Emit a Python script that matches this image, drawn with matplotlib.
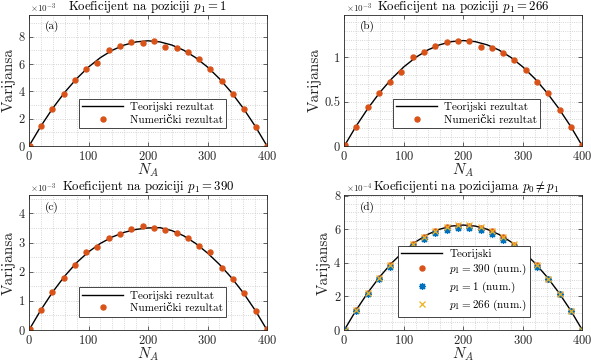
import numpy as np
import matplotlib
matplotlib.use("Agg")
import matplotlib.pyplot as plt
from matplotlib.ticker import MultipleLocator

plt.rcParams["font.family"] = ["cmr10", "DejaVu Serif"]
plt.rcParams["mathtext.fontset"] = "cm"
plt.rcParams["axes.formatter.use_mathtext"] = True
plt.rcParams["axes.unicode_minus"] = False

# N_A positions of the numerical results
NA_NUM = [1, 20, 39, 58, 77, 96, 115, 134, 153, 172, 191, 210,
          229, 248, 267, 286, 305, 324, 343, 362, 381, 400]
# N_A positions of the theoretical curves
NA_TH = [0, 20, 40, 60, 80, 100, 120, 140, 160, 180, 200,
         220, 240, 260, 280, 300, 320, 340, 360, 380, 400]

# (a) p1 = 1, x1e-3
TH_A = [0, 1.46, 2.77, 3.93, 4.93, 5.78, 6.47, 7.01, 7.39, 7.62, 7.70,
        7.62, 7.39, 7.01, 6.47, 5.78, 4.93, 3.93, 2.77, 1.46, 0]
NUM_A = [0.02, 1.48, 2.71, 3.79, 4.82, 5.62, 6.06, 7.01, 7.33, 7.61, 7.51, 7.67,
         7.27, 7.15, 6.90, 6.35, 5.61, 4.76, 3.84, 2.71, 1.37, 0.02]

# (b) p1 = 266, x1e-3
TH_B = [0, 0.226, 0.428, 0.607, 0.762, 0.893, 1.000, 1.083, 1.142, 1.178, 1.190,
        1.178, 1.142, 1.083, 1.000, 0.893, 0.762, 0.607, 0.428, 0.226, 0]
NUM_B = [0.01, 0.22, 0.44, 0.60, 0.72, 0.84, 1.00, 1.066, 1.13, 1.17, 1.182, 1.188,
         1.123, 1.104, 1.048, 0.972, 0.860, 0.728, 0.597, 0.410, 0.220, 0.01]

# (c) p1 = 390, x1e-3
TH_C = [0, 0.69, 1.31, 1.85, 2.31, 2.68, 2.97, 3.19, 3.35, 3.45, 3.50,
        3.51, 3.41, 3.23, 2.97, 2.64, 2.25, 1.80, 1.28, 0.68, 0]
NUM_C = [0.03, 0.69, 1.29, 1.79, 2.23, 2.68, 2.85, 3.14, 3.29, 3.45, 3.58, 3.51,
         3.43, 3.31, 3.17, 2.88, 2.68, 2.14, 1.74, 1.26, 0.64, 0.03]

# (d) p0 != p1, x1e-4
TH_D = [0, 1.19, 2.25, 3.19, 4.00, 4.69, 5.25, 5.69, 6.00, 6.19, 6.25,
        6.19, 6.00, 5.69, 5.25, 4.69, 4.00, 3.19, 2.25, 1.19, 0]
NUM_D390 = [0.02, 1.19, 2.20, 3.10, 3.89, 4.57, 5.13, 5.56, 5.90, 6.12, 6.22, 6.22,
            6.10, 5.88, 5.53, 5.08, 4.52, 3.85, 3.05, 2.15, 1.13, 0.02]
NUM_D1 = [0.02, 1.16, 2.17, 3.03, 3.76, 4.45, 4.98, 5.42, 5.76, 5.97, 6.08, 6.08,
          5.97, 5.72, 5.38, 4.95, 4.42, 3.78, 3.03, 2.14, 1.12, 0.02]
NUM_D266 = [0.02, 1.18, 2.19, 3.09, 3.88, 4.55, 5.12, 5.56, 5.91, 6.12, 6.24, 6.23,
            6.12, 5.89, 5.55, 5.10, 4.53, 3.85, 3.06, 2.15, 1.13, 0.02]

ORANGE = "#D95319"
BLUE = "#0072BD"
YELLOW = "#EDB120"
DARK = "#262626"

fig = plt.figure(figsize=(5.91, 3.64), dpi=100)
W = 0.4027
ax_a = fig.add_axes([0.0491, 0.5989, W, 0.3607])
ax_b = fig.add_axes([0.5826, 0.5989, W, 0.3607])
ax_c = fig.add_axes([0.0491, 0.0934, W, 0.3709])
ax_d = fig.add_axes([0.5826, 0.0934, W, 0.3709])


def style(ax, ytop, ymajor, yminor, label, exp, title, tx=0.5):
    ax.set_xlim(0, 400)
    ax.set_ylim(0, ytop)
    ax.xaxis.set_major_locator(MultipleLocator(100))
    ax.xaxis.set_minor_locator(MultipleLocator(20))
    ax.yaxis.set_major_locator(MultipleLocator(ymajor))
    ax.yaxis.set_minor_locator(MultipleLocator(yminor))
    ax.yaxis.set_major_formatter(plt.FuncFormatter(lambda v, p: f"{v:g}"))
    ax.grid(which="both", color="#c8c8c8", linestyle=":", linewidth=0.6)
    ax.set_axisbelow(True)
    ax.tick_params(which="both", direction="in", top=True, right=True,
                   labelsize=9, width=0.5, color=DARK, labelcolor=DARK, pad=3)
    ax.tick_params(which="major", length=3)
    ax.tick_params(which="minor", length=0)
    for s in ax.spines.values():
        s.set_linewidth(0.6)
        s.set_color(DARK)
    ax.set_xlabel("$N_A$", fontsize=11, labelpad=-1, color=DARK)
    ax.set_ylabel("Varijansa", fontsize=11, labelpad=2, color=DARK)
    ax.set_title(title, fontsize=9.2, pad=2.5, color="black", x=tx)
    ax.text(0.005, 1.0, r"$\times10^{%s}$" % exp, transform=ax.transAxes,
            fontsize=6.5, ha="left", va="bottom", color=DARK)
    ax.text(0.065, 0.91, label, transform=ax.transAxes, fontsize=8,
            ha="left", va="center", color="black")


for ax, th, num, ytop, maj, mino, lab, ti in [
        (ax_a, TH_A, NUM_A, 9.61, 2, 1, "(a)", r"Koeficijent na poziciji $p_1 = 1$"),
        (ax_b, TH_B, NUM_B, 1.482, 0.5, 0.1, "(b)", r"Koeficijent na poziciji $p_1 = 266$"),
        (ax_c, TH_C, NUM_C, 4.63, 1, 0.5, "(c)", r"Koeficijent na poziciji $p_1 = 390$")]:
    ax.plot(NA_TH, th, color="black", linewidth=1.0, label="Teorijski rezultat")
    ax.plot(NA_NUM, num, "o", color=ORANGE, markersize=3.6, linestyle="none",
            label="Numerički rezultat")
    style(ax, ytop, maj, mino, lab, "-3", ti)

ax_d.plot(NA_TH, TH_D, color="black", linewidth=1.0, label="Teorijski")
ax_d.plot(NA_NUM, NUM_D390, "o", color=ORANGE, markersize=3.6, linestyle="none",
          label=r"$p_1 = 390$ (num.)")
ax_d.plot(NA_NUM, NUM_D1, marker=(8, 2, 0), color=BLUE, markersize=5,
          markeredgewidth=0.9, linestyle="none", label=r"$p_1 = 1$ (num.)")
ax_d.plot(NA_NUM, NUM_D266, "x", color=YELLOW, markersize=4,
          markeredgewidth=0.9, linestyle="none", label=r"$p_1 = 266$ (num.)")
style(ax_d, 8.04, 2, 0.5, "(d)", "-4", r"Koeficijenti na pozicijama $p_0 \neq p_1$",
      tx=0.51)

leg_kw = dict(loc="lower left", fontsize=8, frameon=True, fancybox=False,
              edgecolor=DARK, framealpha=1, handlelength=3.7, borderpad=0.3,
              labelspacing=0.25, handletextpad=0.6, borderaxespad=0)
for ax, x0, y0 in [(ax_a, 0.21, 0.135), (ax_b, 0.203, 0.135), (ax_c, 0.21, 0.0985),
                   (ax_d, 0.2256, 0.0985)]:
    leg = ax.legend(bbox_to_anchor=(x0, y0), **leg_kw)
    leg.get_frame().set_linewidth(0.6)

fig.savefig("out.png", dpi=100, facecolor="white")
